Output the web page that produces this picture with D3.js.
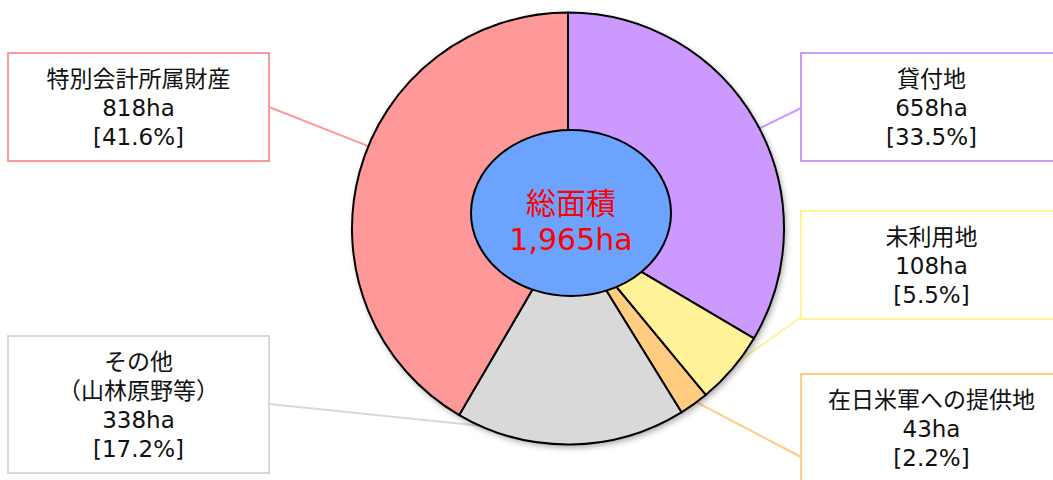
<!DOCTYPE html>
<html><head><meta charset="utf-8">
<script src="https://cdn.jsdelivr.net/npm/d3@7/dist/d3.min.js"></script>
<style>
html,body{margin:0;padding:0;background:#fff;}
svg{display:block;}
text{font-family:"DejaVu Sans","Noto Sans CJK JP",sans-serif;}
</style></head>
<body>
<svg id="chart" width="1053" height="480"></svg>
<script>
// ---- data ----
const categories = ["貸付地", "未利用地", "在日米軍への提供地", "その他\n（山林原野等）", "特別会計所属財産"];
const areas = [658, 108, 43, 338, 818];          // ha
const shares = [33.5, 5.5, 2.2, 17.2, 41.6];      // %
const totalLabel = ["総面積", "1,965ha"];
const colors = ["#CC99FF", "#FFF299", "#FFCC80", "#D9D9D9", "#FF9999"];

// ---- layout ----
const W = 1053, H = 480;
const cx = 568, cy = 228.5, R = 216;
const ell = {cx: 571, cy: 213, rx: 100, ry: 83};
const boxes = [
  {x: 801, y: 53,  lx: 801, ly: 108, ang: 62.4},
  {x: 801, y: 211, lx: 801, ly: 317, ang: 128.4},
  {x: 801, y: 374, lx: 801, ly: 457, ang: 143.5},
  {x: 8,   y: 336, lx: 269, ly: 404, ang: 204},
  {x: 8,   y: 53,  lx: 269, ly: 107, ang: 292.4}
];
const boxW = 261, lineH = 29, fs = 23;

const svg = d3.select("#chart");
const defs = svg.append("defs");
const f = defs.append("filter").attr("id","shadow").attr("x","-10%").attr("y","-10%").attr("width","130%").attr("height","130%");
f.append("feDropShadow").attr("dx",2).attr("dy",3).attr("stdDeviation",3).attr("flood-color","#000").attr("flood-opacity",0.35);

const data = categories.map((c,i)=>({name:c, area:areas[i], share:shares[i], color:colors[i], box:boxes[i]}));

// leader lines (behind pie)
const rad = a => a*Math.PI/180;
svg.append("g").selectAll("line").data(data).join("line")
  .attr("x1", d=>d.box.lx).attr("y1", d=>d.box.ly)
  .attr("x2", d=>cx + R*Math.sin(rad(d.box.ang)))
  .attr("y2", d=>cy - R*Math.cos(rad(d.box.ang)))
  .attr("stroke", d=>d.color).attr("stroke-width", 2);

// pie
const pie = d3.pie().sort(null).value(d=>d.share);
const arc = d3.arc().innerRadius(0).outerRadius(R);
const pg = svg.append("g").attr("transform",`translate(${cx},${cy})`);
pg.append("circle").attr("r",R).attr("fill","#fff").attr("filter","url(#shadow)");
pg.selectAll("path").data(pie(data)).join("path")
  .attr("d", arc).attr("fill", d=>d.data.color)
  .attr("stroke","#000").attr("stroke-width",2).attr("stroke-linejoin","round");

// center ellipse
svg.append("ellipse").attr("cx",ell.cx).attr("cy",ell.cy).attr("rx",ell.rx).attr("ry",ell.ry)
  .attr("fill","#6CA3FF").attr("stroke","#000").attr("stroke-width",2);
svg.append("g").selectAll("text").data(totalLabel).join("text")
  .attr("x", ell.cx).attr("y", (d,i)=>214 + i*36)
  .attr("text-anchor","middle").attr("fill","#FF0000").attr("font-size",30)
  .text(d=>d);

// label boxes
const bg = svg.append("g").selectAll("g").data(data).join("g");
bg.each(function(d){
  const lines = d.name.split("\n").concat([d.area + "ha", "[" + d.share.toFixed(1) + "%]"]);
  const g = d3.select(this);
  const h = lines.length*lineH + 21;
  g.append("rect").attr("x",d.box.x).attr("y",d.box.y).attr("width",boxW).attr("height",h)
    .attr("fill","#fff").attr("stroke",d.color).attr("stroke-width",2);
  g.selectAll("text").data(lines).join("text")
    .attr("x", d.box.x + boxW/2).attr("y",(t,i)=>d.box.y + 34 + i*lineH)
    .attr("text-anchor","middle").attr("font-size",fs).attr("fill","#111").text(t=>t);
});
</script>
</body></html>
